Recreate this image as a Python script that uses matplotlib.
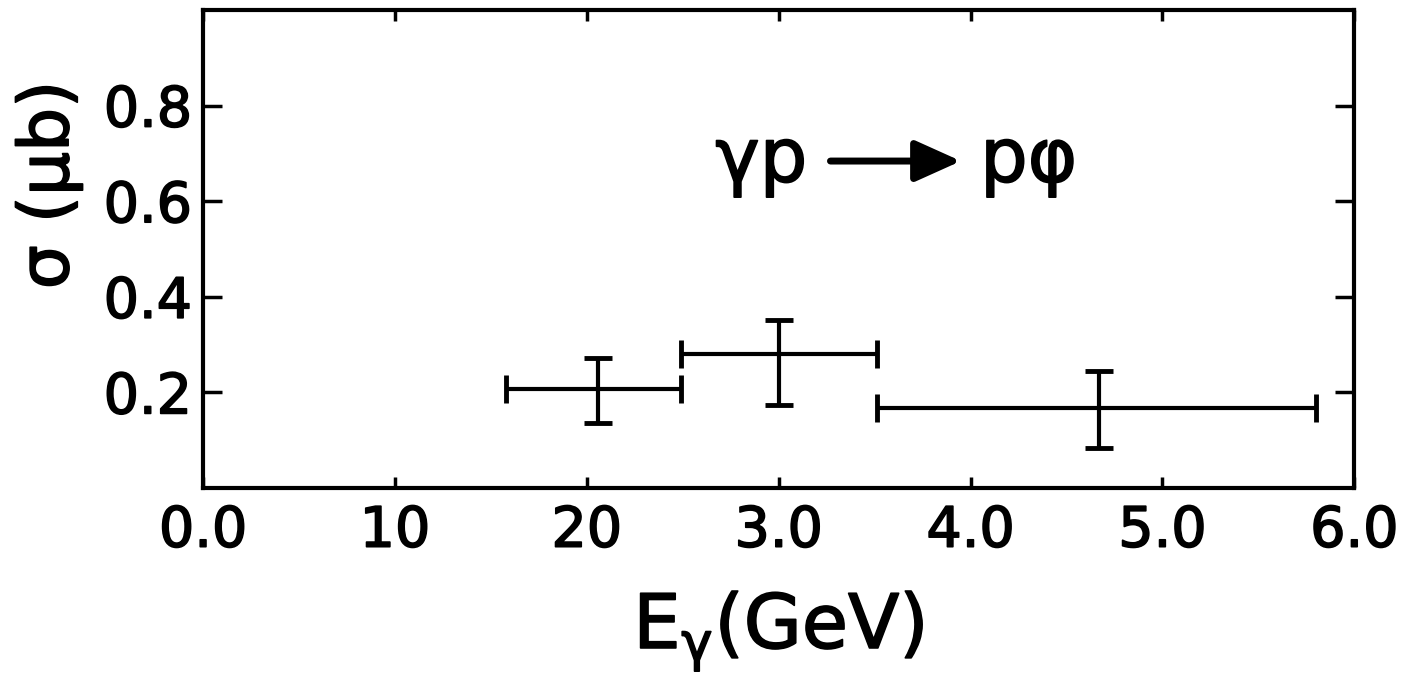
import matplotlib.pyplot as plt
import matplotlib.patheffects as pe

# photon energy bins (GeV) and cross section (microbarn)
e_center = [2.06, 3.00, 4.67]
e_low = [1.58, 2.49, 3.51]
e_high = [2.49, 3.51, 5.80]
sigma = [0.208, 0.280, 0.168]
sigma_low = [0.137, 0.173, 0.084]
sigma_high = [0.272, 0.352, 0.244]

x_ticks = [0, 1, 2, 3, 4, 5, 6]
x_ticklabels = ['0.0', '10', '20', '3.0', '4.0', '5.0', '6.0']
y_ticks = [0.2, 0.4, 0.6, 0.8]
y_ticklabels = ['0.2', '0.4', '0.6', '0.8']

plt.rcParams['font.family'] = ['DejaVu Sans']
thick = [pe.withStroke(linewidth=1.2, foreground='black')]

fig = plt.figure(figsize=(14.04, 6.89), dpi=100)
ax = fig.add_axes([0.1446, 0.2917, 0.82, 0.6938])

xerr = [[c - lo for c, lo in zip(e_center, e_low)],
        [hi - c for c, hi in zip(e_center, e_high)]]
yerr = [[s - lo for s, lo in zip(sigma, sigma_low)],
        [hi - s for s, hi in zip(sigma, sigma_high)]]
ax.errorbar(e_center, sigma, xerr=xerr, yerr=yerr, fmt='none',
            ecolor='black', elinewidth=3, capsize=10, capthick=3.5)

ax.set_xlim(0, 6.0)
ax.set_ylim(0, 1.0)
ax.set_xticks(x_ticks)
ax.set_xticklabels(x_ticklabels)
ax.set_yticks(y_ticks)
ax.set_yticklabels(y_ticklabels)

for s in ax.spines.values():
    s.set_linewidth(3)
ax.tick_params(axis='both', direction='in', width=2.5, labelsize=40,
               top=True, right=True)
ax.tick_params(axis='x', length=8, pad=12)
ax.tick_params(axis='y', length=14, pad=8)
for lab in ax.get_xticklabels() + ax.get_yticklabels():
    lab.set_path_effects(thick)

ax.set_xlabel(r'$\mathregular{E_{γ}(GeV)}$', fontsize=54, labelpad=22,
              path_effects=thick)
ax.set_ylabel('σ (μb)', fontsize=50, path_effects=thick)
ax.yaxis.set_label_coords(-0.105, 0.634)

# reaction label
ax.text(2.67, 0.684, 'γp', fontsize=54, va='center', ha='left', path_effects=thick)
ax.text(4.05, 0.684, 'pφ', fontsize=54, va='center', ha='left', path_effects=thick)
ax.annotate('', xy=(3.95, 0.684), xytext=(3.27, 0.684),
            arrowprops=dict(arrowstyle='-|>,head_length=1.0,head_width=0.45',
                            lw=5, color='black', shrinkA=0, shrinkB=0,
                            mutation_scale=28))

fig.savefig('out.png', dpi=100)
